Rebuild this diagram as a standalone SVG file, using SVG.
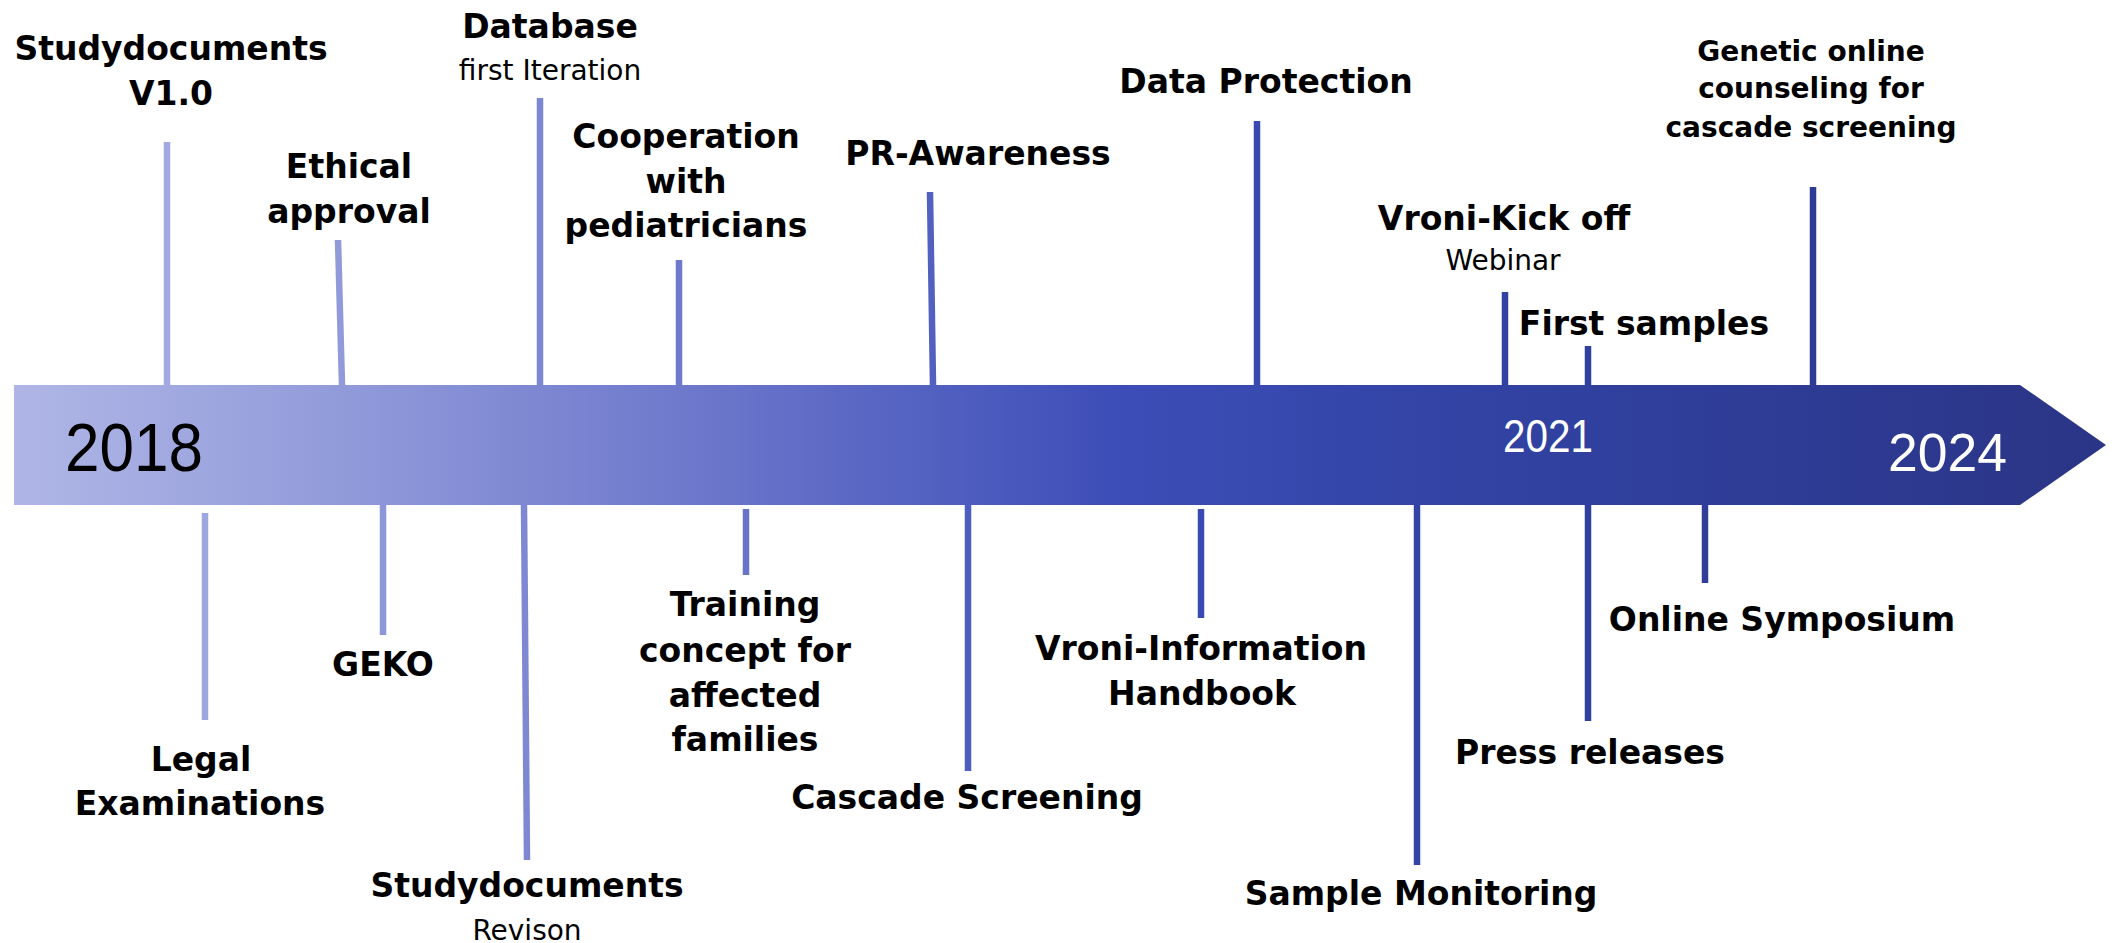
<svg xmlns="http://www.w3.org/2000/svg" width="2116" height="943" viewBox="0 0 2116 943">
<defs>
<linearGradient id="g" gradientUnits="userSpaceOnUse" x1="14" y1="0" x2="2106" y2="0">
<stop offset="0" stop-color="#afb6e6"/>
<stop offset="0.14" stop-color="#959edb"/>
<stop offset="0.33" stop-color="#6c77cb"/>
<stop offset="0.53" stop-color="#3c4db7"/>
<stop offset="0.71" stop-color="#3142a2"/>
<stop offset="1" stop-color="#2b3586"/>
</linearGradient>
<style>
.t{font-family:'DejaVu Sans',Verdana,sans-serif;font-weight:bold;font-size:33px;fill:#000;text-anchor:middle}
.g{font-size:28px}
.s{font-family:'DejaVu Sans',Verdana,sans-serif;font-size:28px;fill:#000;text-anchor:middle}
.c{stroke:url(#g);stroke-width:6.5;fill:none}
.y{font-family:'Liberation Sans',Arial,sans-serif}
</style>
</defs>
<rect width="2116" height="943" fill="#fff"/>
<g id="timeline-bar">
<path d="M14 385 H2020 L2106 445 L2020 505 H14 Z" fill="url(#g)"/>
<text class="y" x="65" y="471" font-size="68" fill="#000" textLength="138" lengthAdjust="spacingAndGlyphs">2018</text>
<text class="y" x="1503" y="452" font-size="46" fill="#fff" textLength="90" lengthAdjust="spacingAndGlyphs">2021</text>
<text class="y" x="1888" y="471" font-size="54" fill="#fff" textLength="119" lengthAdjust="spacingAndGlyphs">2024</text>
</g>
<g id="connectors">
<line class="c" x1="167" y1="142" x2="167" y2="385"/>
<line class="c" x1="338" y1="240" x2="342" y2="385"/>
<line class="c" x1="540" y1="98" x2="540" y2="385"/>
<line class="c" x1="679" y1="260" x2="679" y2="385"/>
<line class="c" x1="930" y1="192" x2="933" y2="385"/>
<line class="c" x1="1257" y1="121" x2="1257" y2="385"/>
<line class="c" x1="1505" y1="292" x2="1505" y2="385"/>
<line class="c" x1="1588" y1="346" x2="1588" y2="385"/>
<line class="c" x1="1813" y1="187" x2="1813" y2="385"/>
<line class="c" x1="205" y1="513" x2="205" y2="720"/>
<line class="c" x1="383" y1="505" x2="383" y2="635"/>
<line class="c" x1="524" y1="505" x2="527" y2="860"/>
<line class="c" x1="746" y1="509" x2="746" y2="575"/>
<line class="c" x1="968" y1="505" x2="968" y2="771"/>
<line class="c" x1="1201" y1="509" x2="1201" y2="618"/>
<line class="c" x1="1417" y1="505" x2="1417" y2="865"/>
<line class="c" x1="1588" y1="505" x2="1588" y2="721"/>
<line class="c" x1="1705" y1="505" x2="1705" y2="583"/>
</g>
<g id="n-studydocs-v1"><text class="t" x="171" y="60">Studydocuments</text><text class="t" x="171" y="105">V1.0</text></g>
<g id="n-ethical"><text class="t" x="349" y="178">Ethical</text><text class="t" x="349" y="223">approval</text></g>
<g id="n-database"><text class="t" x="550" y="38">Database</text><text class="s" x="550" y="80">first Iteration</text></g>
<g id="n-cooperation"><text class="t" x="686" y="148">Cooperation</text><text class="t" x="686" y="193">with</text><text class="t" x="686" y="237">pediatricians</text></g>
<g id="n-pr"><text class="t" x="978" y="165">PR-Awareness</text></g>
<g id="n-dataprot"><text class="t" x="1266" y="93">Data Protection</text></g>
<g id="n-kickoff"><text class="t" x="1504" y="230">Vroni-Kick off</text><text class="s" x="1503" y="270">Webinar</text></g>
<g id="n-firstsamples"><text class="t" x="1644" y="335">First samples</text></g>
<g id="n-genetic"><text class="t g" x="1811" y="61">Genetic online</text><text class="t g" x="1811" y="98">counseling for</text><text class="t g" x="1811" y="137">cascade screening</text></g>
<g id="n-legal"><text class="t" x="201" y="771">Legal</text><text class="t" x="200" y="815">Examinations</text></g>
<g id="n-geko"><text class="t" x="383" y="676">GEKO</text></g>
<g id="n-studydocs-rev"><text class="t" x="527" y="897">Studydocuments</text><text class="s" x="527" y="940">Revison</text></g>
<g id="n-training"><text class="t" x="745" y="616">Training</text><text class="t" x="745" y="662">concept for</text><text class="t" x="745" y="707">affected</text><text class="t" x="745" y="751">families</text></g>
<g id="n-cascade"><text class="t" x="967" y="809">Cascade Screening</text></g>
<g id="n-vroniinfo"><text class="t" x="1201" y="660">Vroni-Information</text><text class="t" x="1202" y="705">Handbook</text></g>
<g id="n-sample"><text class="t" x="1421" y="905">Sample Monitoring</text></g>
<g id="n-press"><text class="t" x="1590" y="764">Press releases</text></g>
<g id="n-symposium"><text class="t" x="1782" y="631">Online Symposium</text></g>
</svg>
